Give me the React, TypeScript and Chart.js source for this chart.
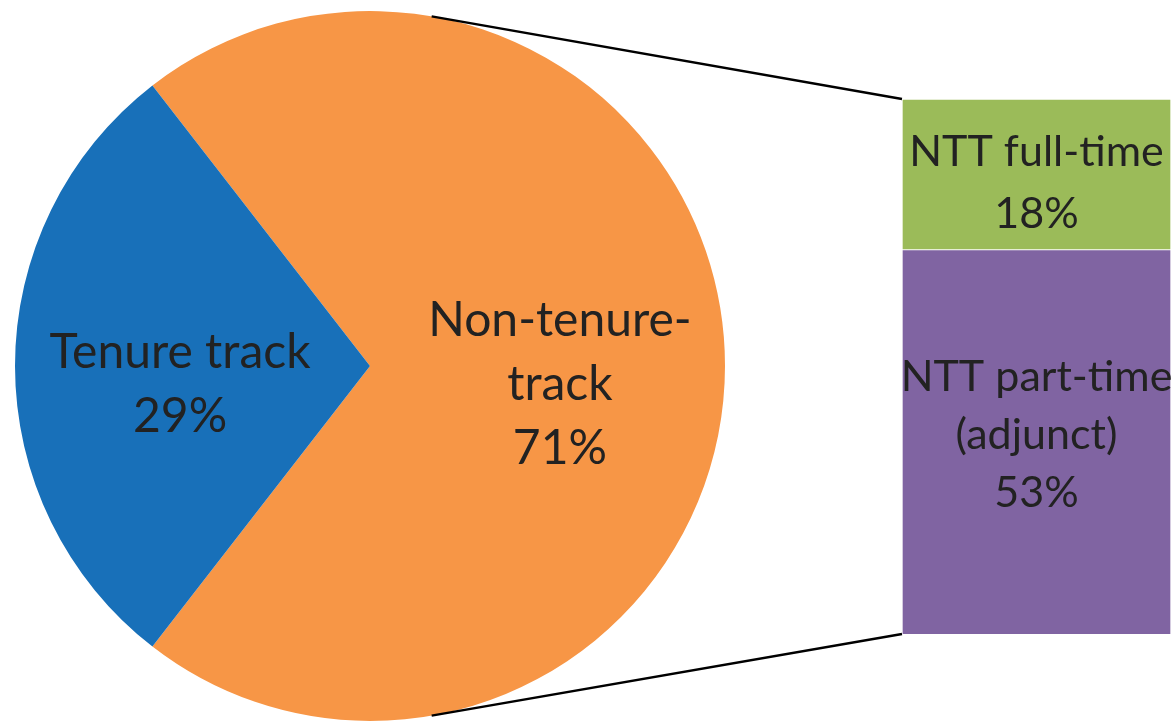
import React, { useEffect, useRef } from "react";
import { Chart, registerables } from "chart.js";

Chart.register(...registerables);

// ---- data ----
const pieCategories = ["Non-tenure-track", "Tenure track"];
const pieValues = [71, 29];
const pieTextLines = [["Non-tenure-", "track"], ["Tenure track"]];

const barCategories = ["NTT part-time (adjunct)", "NTT full-time"];
const barValues = [53, 18];
const barTextLines = [["NTT part-time", "(adjunct)"], ["NTT full-time"]];

// ---- styles ----
const pieColors = ["#F79646", "#1870B9"];
const barColors = ["#8064A2", "#9BBB59"];
const textColor = "#222222";
const FONT = "Lato, 'Open Sans', sans-serif";

const W = 1176;
const H = 721;

export default function App() {
  const pieCanvas = useRef<HTMLCanvasElement | null>(null);
  const barCanvas = useRef<HTMLCanvasElement | null>(null);

  useEffect(() => {
    if (!pieCanvas.current || !barCanvas.current) return;

    const pieLabelPlugin = {
      id: "pieLabels",
      afterDraw(chart: any) {
        const ctx = chart.ctx;
        const meta = chart.getDatasetMeta(0);
        ctx.save();
        ctx.fillStyle = textColor;
        ctx.font = `48px ${FONT}`;
        ctx.textAlign = "center";
        ctx.textBaseline = "alphabetic";
        meta.data.forEach((arc: any, i: number) => {
          const p = arc.getProps(["x", "y", "startAngle", "endAngle", "outerRadius"], true);
          const mid = (p.startAngle + p.endAngle) / 2;
          const f = 0.535;
          const lx = p.x + Math.cos(mid) * p.outerRadius * f;
          const ly = p.y + Math.sin(mid) * p.outerRadius * f + 34;
          const lines = [...pieTextLines[i], `${pieValues[i]}%`];
          const lh = 64;
          lines.forEach((t, k) => {
            ctx.fillText(t, lx, ly + (k - (lines.length - 1) / 2) * lh);
          });
        });
        ctx.restore();
      },
    };

    const pie = new Chart(pieCanvas.current, {
      type: "pie",
      data: {
        labels: pieCategories,
        datasets: [
          {
            data: pieValues,
            backgroundColor: pieColors,
            borderWidth: 0,
            hoverOffset: 0,
          },
        ],
      },
      options: {
        responsive: false,
        animation: false,
        rotation: -37.8,
        layout: { padding: { left: 15, right: 451, top: 11, bottom: 0 } },
        plugins: { legend: { display: false }, tooltip: { enabled: false } },
      },
      plugins: [pieLabelPlugin],
    } as any);

    const barPlugin = {
      id: "barExtras",
      afterDraw(chart: any) {
        const ctx = chart.ctx;
        const area = chart.chartArea;
        // connector lines from the pie to the bar
        const arc = pie.getDatasetMeta(0).data[0] as any;
        const pp = arc.getProps(["x", "y", "outerRadius"], true);
        const topEl = chart.getDatasetMeta(barValues.length - 1).data[0] as any;
        const tp = topEl.getProps(["x", "y", "width"], true);
        const left = tp.x - tp.width / 2;
        const a = (80 * Math.PI) / 180;
        ctx.save();
        ctx.strokeStyle = "#000";
        ctx.lineWidth = 2.5;
        ctx.beginPath();
        ctx.moveTo(pp.x + Math.cos(-a) * pp.outerRadius, pp.y + Math.sin(-a) * pp.outerRadius);
        ctx.lineTo(left, tp.y);
        ctx.moveTo(pp.x + Math.cos(a) * pp.outerRadius, pp.y + Math.sin(a) * pp.outerRadius);
        ctx.lineTo(left, area.bottom);
        ctx.stroke();

        // labels
        ctx.fillStyle = textColor;
        ctx.font = `43px ${FONT}`;
        ctx.textAlign = "center";
        ctx.textBaseline = "alphabetic";
        const offsets = [7, 23];
        barValues.forEach((v, i) => {
          const el = chart.getDatasetMeta(i).data[0] as any;
          const p = el.getProps(["x", "y", "base"], true);
          const bottom = Math.min(p.base, area.bottom);
          const cy = (p.y + bottom) / 2 + offsets[i];
          const lines = [...barTextLines[i], `${v}%`];
          const lh = lines.length > 2 ? 58 : 62;
          lines.forEach((t, k) => {
            ctx.fillText(t, p.x, cy + (k - (lines.length - 1) / 2) * lh);
          });
        });
        ctx.restore();
      },
    };

    const bar = new Chart(barCanvas.current, {
      type: "bar",
      data: {
        labels: ["NTT"],
        datasets: barValues.map((v, i) => ({
          label: barCategories[i],
          data: [v],
          backgroundColor: barColors[i],
          borderColor: "rgba(255,255,255,0.6)",
          borderWidth: 1,
          categoryPercentage: 1,
          barPercentage: 1,
          clip: 0,
        })),
      },
      options: {
        responsive: false,
        animation: false,
        layout: { padding: { left: 902, right: 5, top: 99, bottom: 87 } },
        scales: {
          x: { stacked: true, display: false },
          y: { stacked: true, display: false, min: 7, max: 71 },
        },
        plugins: { legend: { display: false }, tooltip: { enabled: false } },
      },
      plugins: [barPlugin],
    } as any);

    return () => {
      bar.destroy();
      pie.destroy();
    };
  }, []);

  return (
    <div style={{ position: "absolute", left: 0, top: 0, width: W, height: H, background: "#fff" }}>
      <canvas ref={pieCanvas} width={W} height={H} style={{ position: "absolute", left: 0, top: 0 }} />
      <canvas ref={barCanvas} width={W} height={H} style={{ position: "absolute", left: 0, top: 0 }} />
    </div>
  );
}
